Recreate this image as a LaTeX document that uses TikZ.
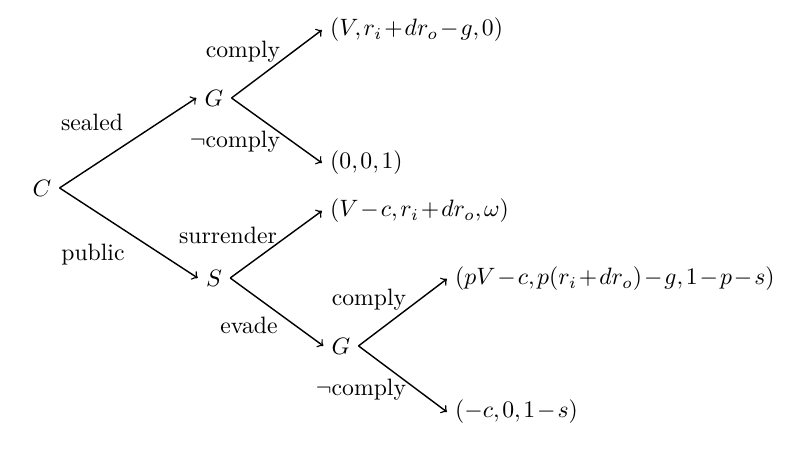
\documentclass[tikz,border=0pt]{standalone}
\usetikzlibrary{positioning}
\tikzset{
  player/.style={inner sep=3.3pt},
  payoff/.style={anchor=west,inner sep=3.3pt,
    execute at begin node={\medmuskip=1.5mu\thinmuskip=2mu}},
  move/.style={font=\normalsize},
  branch/.style={->,semithick},
}

\begin{document}
\begin{tikzpicture}[x=1cm,y=1cm]
  \useasboundingbox (0,0) rectangle (11.99,6.81);
  % decision nodes
  \node[player] (C)  at (0.623,4.021) {$C$};
  \node[player] (G1) at (3.175,5.356) {$G$};
  \node[player] (S)  at (3.175,2.685) {$S$};
  \node[player] (G2) at (5.059,1.677) {$G$};
  % outcomes
  \node[payoff] (o1) at (4.777,6.365) {$(V,r_i+dr_o-g,0)$};
  \node[payoff] (o2) at (4.777,4.392) {$(0,0,1)$};
  \node[payoff] (o3) at (4.777,3.680) {$(V-c,r_i+dr_o,\omega)$};
  \node[payoff] (o4) at (6.632,2.671) {$(pV-c,p(r_i+dr_o)-g,1-p-s)$};
  \node[payoff] (o5) at (6.632,0.697) {$(-c,0,1-s)$};
  % branches
  \draw[branch] (C.east) -- (G1.west);
  \draw[branch] (C.east) -- (S.west);
  \draw[branch] (G1.east) -- (o1.west);
  \draw[branch] (G1.east) -- (o2.west);
  \draw[branch] (S.east) -- (o3.west);
  \draw[branch] (S.east) -- (G2.west);
  \draw[branch] (G2.east) -- (o4.west);
  \draw[branch] (G2.east) -- (o5.west);
  % move labels
  \node[move] (mSealed) at (1.365,4.999) {sealed};
  \node[move] (mPublic) at (1.380,3.027) {public};
  \node[move] (mC1)     at (3.605,6.039) {comply};
  \node[move] (mN1)     at (3.487,4.703) {$\neg$comply};
  \node[move] (mSurr)   at (3.383,3.323) {surrender};
  \node[move] (mEvade)  at (3.694,1.988) {evade};
  \node[move] (mC2)     at (5.475,2.359) {comply};
  \node[move] (mN2)     at (5.356,1.024) {$\neg$comply};
\end{tikzpicture}
\end{document}
